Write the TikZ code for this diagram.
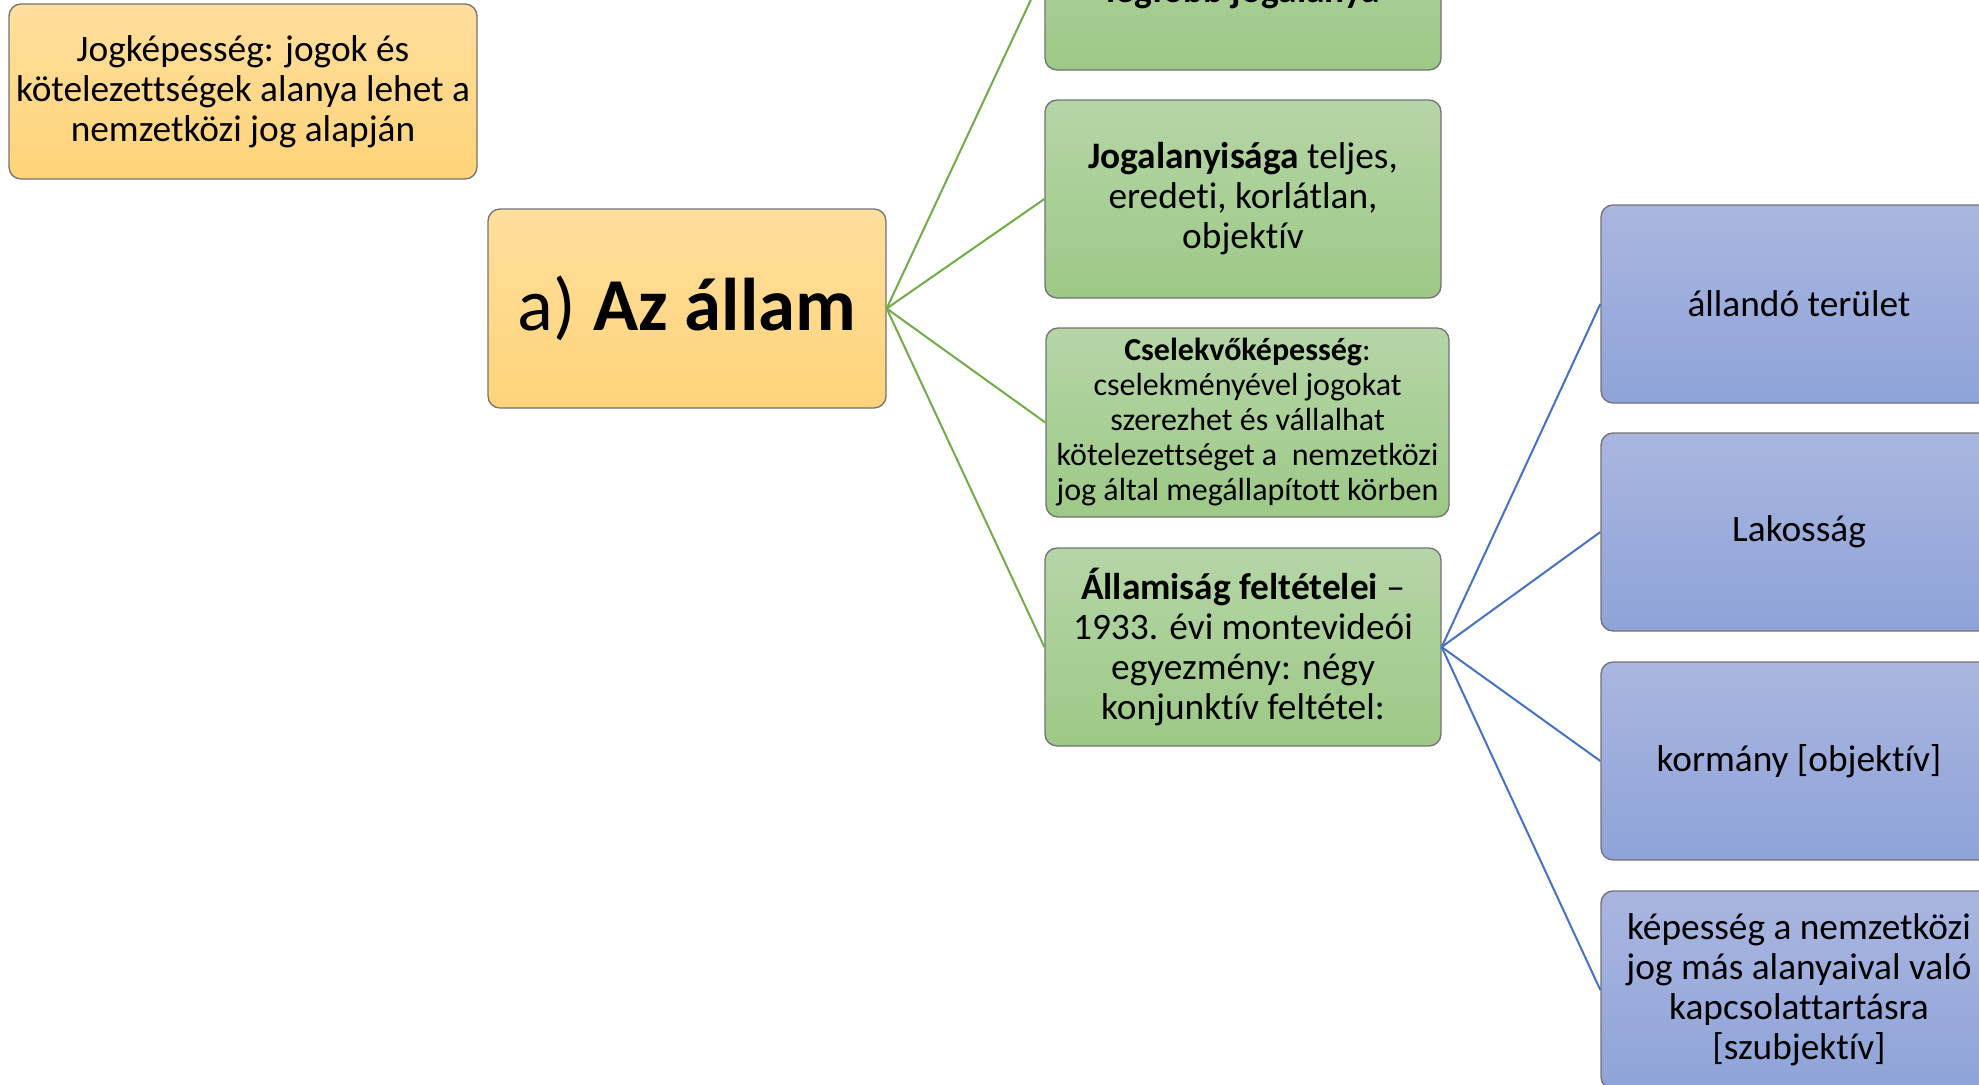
\documentclass[tikz,border=0pt]{standalone}
\usepackage{fontspec}
\setmainfont{Carlito}[Ligatures = NoCommon]
\usepackage{xcolor}

\definecolor{goldtop}{RGB}{255,223,158}
\definecolor{goldbot}{RGB}{255,212,121}
\definecolor{greentop}{RGB}{181,213,167}
\definecolor{greenbot}{RGB}{157,201,134}
\definecolor{bluetop}{RGB}{170,182,224}
\definecolor{bluebot}{RGB}{142,163,216}
\definecolor{greenline}{RGB}{112,173,71}
\definecolor{blueline}{RGB}{68,114,196}

\tikzset{
	box/.style = {rounded corners = 3.6pt, line width = 0.4pt, draw = black!55,
		align = center, inner sep = 2pt, font = \fontsize{11.2}{12}\selectfont},
	goldbox/.style = {box, top color = goldtop, bottom color = goldbot},
	greenbox/.style = {box, top color = greentop, bottom color = greenbot,
		minimum width = 118.8pt, minimum height = 59.4pt},
	bluebox/.style = {box, top color = bluetop, bottom color = bluebot,
		minimum width = 118.8pt, minimum height = 59.4pt},
	greenedge/.style = {line width = 0.6pt, greenline},
	blueedge/.style = {line width = 0.6pt, blueline}
}

\begin{document}
\begin{tikzpicture}[x = 0.3pt, y = -0.3pt]
	\useasboundingbox (0, 0) rectangle (1979, 1084);
	\clip (0, 0) rectangle (1979, 1084);

	% left side
	\node[goldbox, minimum width = 140.4pt, minimum height = 52.5pt] (jogkep) at (243, 91.5)
		{Jogképesség: jogok és\\ kötelezettségek alanya lehet a\\ nemzetközi jog alapján};
	\node[goldbox, minimum width = 119.4pt, minimum height = 59.7pt,
		font = \fontsize{22.4}{26}\selectfont] (allam) at (687, 308.5) {a) \textbf{Az állam}};

	% middle column
	\node[greenbox] (legfobb) at (1243, -29) {};
	\node[font = \fontsize{11.2}{12}\selectfont\bfseries, anchor = base] (legfobbtext) at (1243, 2)
		{legfőbb jogalanya};
	\node[greenbox] (jogalany) at (1243, 199)
		{\textbf{Jogalanyisága} teljes,\\ eredeti, korlátlan,\\ objektív};
	\node[greenbox, minimum width = 120.9pt, minimum height = 56.7pt,
		font = \fontsize{9.6}{10.5}\selectfont] (cselekvo) at (1247.5, 422.5)
		{\textbf{Cselekvőképesség}:\\ cselekményével jogokat\\ szerezhet és vállalhat\\
		 kötelezettséget a\ \ nemzetközi\\ jog által megállapított körben};
	\node[greenbox] (feltetel) at (1243, 647)
		{\textbf{Államiság feltételei} --\\ 1933. évi montevideói\\ egyezmény: négy\\ konjunktív feltétel:};

	% right column
	\node[bluebox] (terulet)   at (1799, 304) {állandó terület};
	\node[bluebox] (lakossag)  at (1799, 532) {Lakosság};
	\node[bluebox] (kormany)   at (1799, 761) {kormány [objektív]};
	\node[bluebox] (kapcsolat) at (1799, 990)
		{képesség a nemzetközi\\ jog más alanyaival való\\ kapcsolattartásra\\ {[szubjektív]}};

	% connectors
	\draw[greenedge] (allam.east) -- (legfobb.west);
	\draw[greenedge] (allam.east) -- (jogalany.west);
	\draw[greenedge] (allam.east) -- (cselekvo.west);
	\draw[greenedge] (allam.east) -- (feltetel.west);

	\draw[blueedge] (feltetel.east) -- (terulet.west);
	\draw[blueedge] (feltetel.east) -- (lakossag.west);
	\draw[blueedge] (feltetel.east) -- (kormany.west);
	\draw[blueedge] (feltetel.east) -- (kapcsolat.west);
\end{tikzpicture}
\end{document}
